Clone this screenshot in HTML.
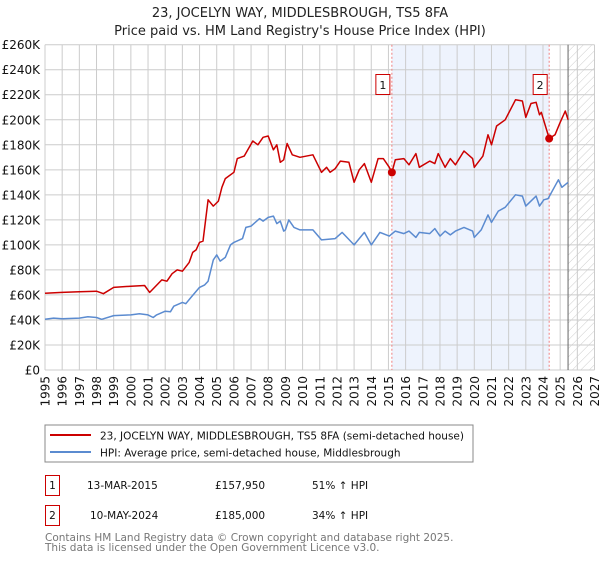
<!DOCTYPE html>
<html><head><meta charset="utf-8"><style>
body{margin:0;background:#fff;font-family:"DejaVu Sans","Liberation Sans",sans-serif;}
svg text{font-family:"DejaVu Sans","Liberation Sans",sans-serif;}
</style></head><body>
<svg id="chart" width="600" height="560" xmlns="http://www.w3.org/2000/svg">
<defs><pattern id="hatch" width="6" height="6" patternUnits="userSpaceOnUse" patternTransform="rotate(45)"><line x1="0" y1="0" x2="0" y2="6" stroke="#ccc" stroke-width="1"/></pattern></defs>
<text x="300" y="17" text-anchor="middle" font-size="13" fill="#222">23, JOCELYN WAY, MIDDLESBROUGH, TS5 8FA</text>
<text x="300" y="35" text-anchor="middle" font-size="13" fill="#222">Price paid vs. HM Land Registry's House Price Index (HPI)</text>
<g id="plot"></g>
<rect x="45" y="425" width="428" height="37" fill="#fff" stroke="#888"/>
<line x1="50" y1="435" x2="91" y2="435" stroke="#cc0000" stroke-width="2"/>
<text x="100" y="439.5" font-size="10.5" fill="#111">23, JOCELYN WAY, MIDDLESBROUGH, TS5 8FA (semi-detached house)</text>
<line x1="50" y1="452" x2="91" y2="452" stroke="#5b8bd0" stroke-width="2"/>
<text x="100" y="456.5" font-size="10.5" fill="#111">HPI: Average price, semi-detached house, Middlesbrough</text>
<g font-size="10.5">
<rect x="45.5" y="475.5" width="14" height="20" fill="#fff" stroke="#cc0000"/>
<text x="52.5" y="489" text-anchor="middle" fill="#111">1</text>
<text x="87" y="489" fill="#111">13-MAR-2015</text>
<text x="215" y="489" fill="#111">£157,950</text>
<text x="312" y="489" fill="#111">51% ↑ HPI</text></g>
<g font-size="10.5">
<rect x="45.5" y="505.5" width="14" height="20" fill="#fff" stroke="#cc0000"/>
<text x="52.5" y="519" text-anchor="middle" fill="#111">2</text>
<text x="90" y="519" fill="#111">10-MAY-2024</text>
<text x="215" y="519" fill="#111">£185,000</text>
<text x="312" y="519" fill="#111">34% ↑ HPI</text></g>
<text x="45" y="541" font-size="10.5" fill="#777">Contains HM Land Registry data © Crown copyright and database right 2025.</text>
<text x="45" y="551" font-size="10.5" fill="#777">This data is licensed under the Open Government Licence v3.0.</text>
</svg>
<script>
const yTicks=[0,20,40,60,80,100,120,140,160,180,200,220,240,260];
const xYears=[1995,1996,1997,1998,1999,2000,2001,2002,2003,2004,2005,2006,2007,2008,2009,2010,2011,2012,2013,2014,2015,2016,2017,2018,2019,2020,2021,2022,2023,2024,2025,2026,2027];
const hpiYears=[1995,1995.5,1996,1997,1997.5,1998,1998.3,1999,2000,2000.5,2001,2001.3,2001.5,2002,2002.3,2002.5,2003,2003.2,2003.5,2004,2004.3,2004.5,2004.8,2005,2005.2,2005.5,2005.8,2006,2006.5,2006.7,2007,2007.5,2007.7,2008,2008.3,2008.5,2008.7,2008.9,2009,2009.2,2009.5,2009.85,2010.6,2011.1,2011.9,2012.3,2013,2013.6,2014,2014.5,2015.05,2015.4,2015.9,2016.2,2016.6,2016.8,2017.4,2017.7,2018,2018.3,2018.6,2018.9,2019.4,2019.9,2020,2020.4,2020.8,2021,2021.4,2021.8,2022.4,2022.8,2023,2023.6,2023.8,2024.05,2024.3,2024.9,2025.1,2025.46];
const hpiValues=[40.5,41.5,41,41.5,42.5,42,40.5,43.5,44,45,44,42,44,47,46.5,51,54,53,58,66,68,71,88,92,87,90,100,102,105,114,115,121,119,122,123,117,119,111,112,120,114,112,112,104,105,110,100,110,100,110,107,111,109,111,106,110,109,113,107,111,108,111,114,111,106,112,124,118,127,130,140,139,131,139,131,136,137,152,146,150];
const priceYears=[1995,1996,1997,1998,1998.2,1998.4,1999,2000,2000.8,2001.1,2001.8,2002.1,2002.4,2002.7,2003,2003.4,2003.6,2003.8,2004,2004.2,2004.5,2004.8,2005.1,2005.3,2005.5,2006,2006.2,2006.6,2007.1,2007.4,2007.7,2008,2008.3,2008.5,2008.7,2008.9,2009.1,2009.4,2009.85,2010.6,2011.1,2011.4,2011.6,2011.9,2012.2,2012.7,2013,2013.3,2013.6,2014,2014.4,2014.7,2015.05,2015.2,2015.4,2015.9,2016.2,2016.6,2016.8,2017.4,2017.7,2017.9,2018.3,2018.6,2018.9,2019.4,2019.9,2020,2020.5,2020.8,2021,2021.3,2021.8,2022.4,2022.8,2023,2023.3,2023.6,2023.8,2023.9,2024.36,2024.7,2025,2025.3,2025.46];
const priceValues=[61.3,62,62.5,63,62,61,66,67,67.5,62,72,71,77,80,79,86,94,96,102,103,136,131,135,146,153,158,169,171,183,180,186,187,176,180,166,168,181,172,170,172,158,162,158,161,167,166,150,160,165,150,169,169,162,157.95,168,169,164,173,162,167,165,173,162,169,164,175,169,162,171,188,180,195,200,216,215,202,213,214,204,206,185,188,198,207,200];
const saleYears=[2015.2,2024.36];
const saleValues=[157.95,185];
const saleLabels=["1","2"];
const x0=45,x1=594.5,yTop=44.7,yBot=370;
const X=y=>x0+(y-1995)/(2027-1995)*(x1-x0);
const Y=v=>yBot-v/260*(yBot-yTop);
const NS="http://www.w3.org/2000/svg";
const plot=document.getElementById('plot');
function mk(t,a){const e=document.createElementNS(NS,t);for(const k in a)e.setAttribute(k,a[k]);plot.appendChild(e);return e;}
let r=mk('rect',{x:X(saleYears[0]),y:yTop,width:X(saleYears[1])-X(saleYears[0]),height:yBot-yTop,fill:'#eef3fd'});


const endYear=hpiYears[hpiYears.length-1];
r=mk('rect',{x:X(endYear),y:yTop,width:x1-X(endYear),height:yBot-yTop,fill:'url(#hatch)'});


yTicks.forEach(v=>{let l=mk('line',{x1:x0,x2:x1,y1:Y(v),y2:Y(v),stroke:'#ccc','stroke-width':1});


let t=mk('text',{x:40,y:Y(v)+4.5,'text-anchor':'end','font-size':12,fill:'#111'});t.textContent=v===0?'£0':'£'+v+'K';

});
xYears.forEach(yr=>{let l=mk('line',{x1:X(yr),x2:X(yr),y1:yTop,y2:yBot,stroke:'#ccc','stroke-width':1});


let t=mk('text',{x:0,y:0,'text-anchor':'end','font-size':12,fill:'#111',transform:`translate(${X(yr)+4.5},376) rotate(-90)`});t.textContent=yr;

});
let vl=mk('line',{x1:X(endYear),x2:X(endYear),y1:yTop,y2:yBot,stroke:'#666','stroke-width':1});


saleYears.forEach((yr,i)=>{let l=mk('line',{x1:X(yr),x2:X(yr),y1:yTop,y2:yBot,stroke:'#f08080','stroke-width':1,'stroke-dasharray':'2,2'});


let b=mk('rect',{x:X(yr)-16,y:74.5,width:14,height:20,fill:'#fff',stroke:'#cc0000'});


let t=mk('text',{x:X(yr)-9,y:89,'text-anchor':'middle','font-size':11,fill:'#111'});t.textContent=saleLabels[i];

});
const pts=(xs,vs)=>xs.map((x,i)=>X(x).toFixed(1)+','+Y(vs[i]).toFixed(1)).join(' ');
let h=mk('polyline',{points:pts(hpiYears,hpiValues),fill:'none',stroke:'#5b8bd0','stroke-width':1.5,'stroke-linejoin':'round'});


let p=mk('polyline',{points:pts(priceYears,priceValues),fill:'none',stroke:'#cc0000','stroke-width':1.5,'stroke-linejoin':'round'});


saleYears.forEach((yr,i)=>{let c=mk('circle',{cx:X(yr),cy:Y(saleValues[i]),r:4,fill:'#cc0000'});

});
</script>
</body></html>
